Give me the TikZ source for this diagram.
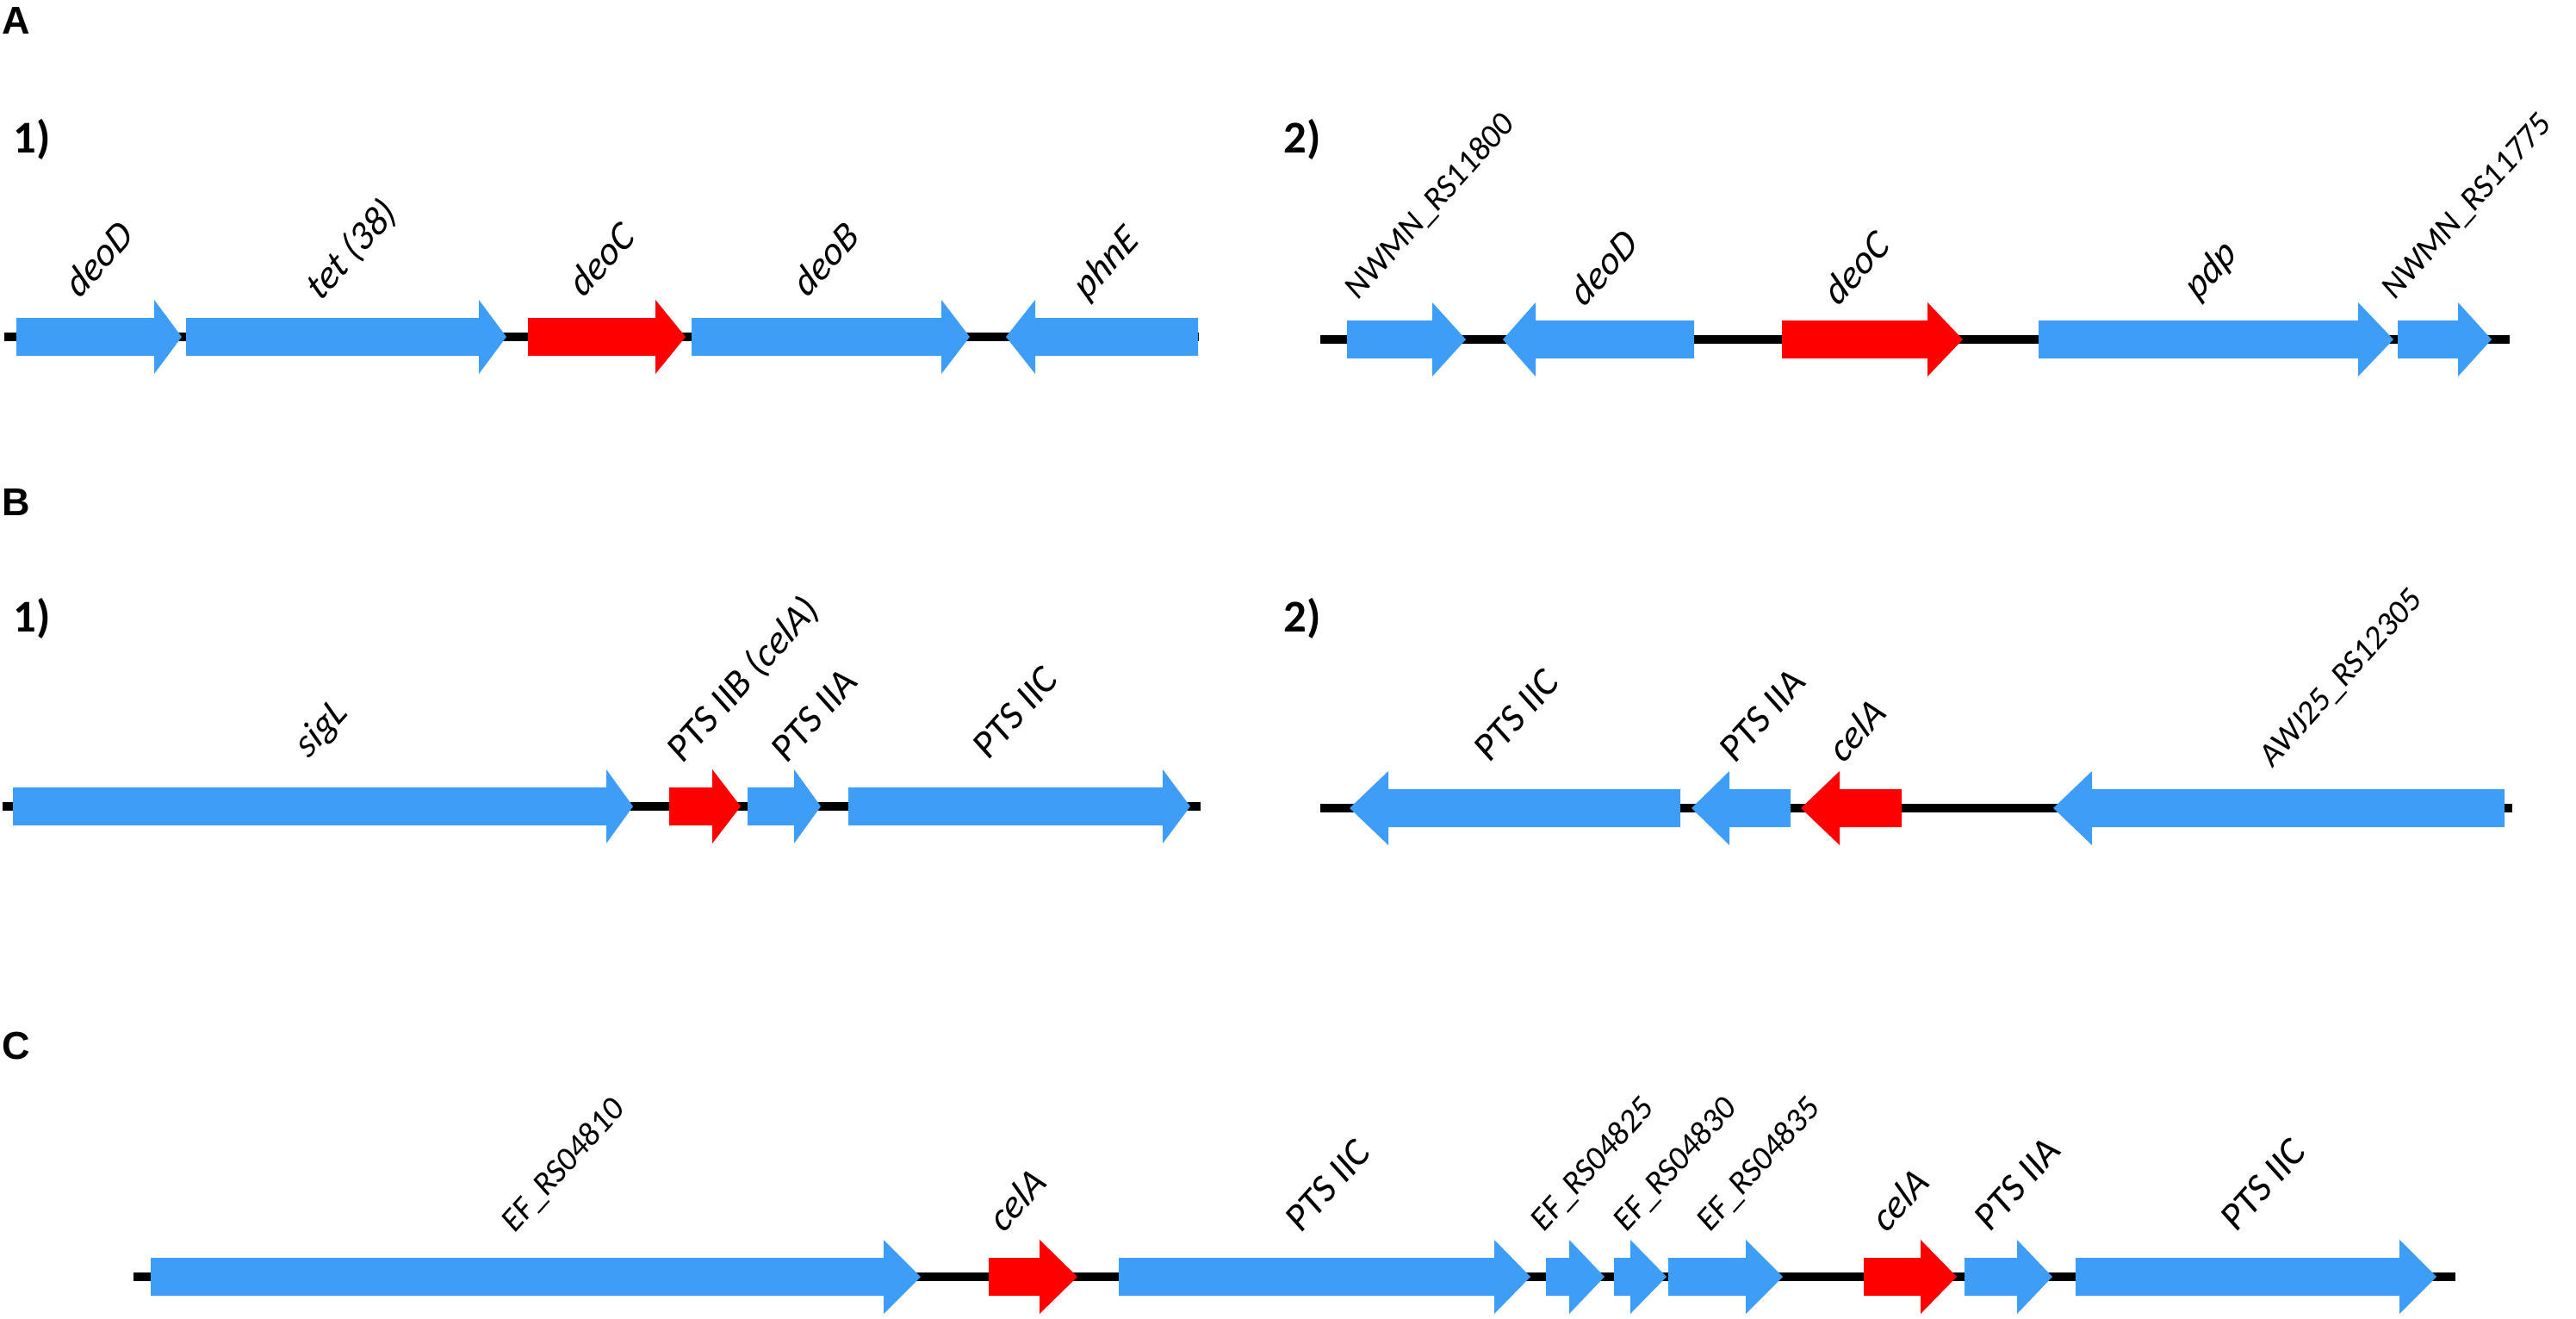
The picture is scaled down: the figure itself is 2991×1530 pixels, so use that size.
\documentclass[tikz,border=0pt]{standalone}
\usepackage{fontspec}
\setmainfont{Carlito}
\newfontfamily\panelfont{Liberation Sans}
\definecolor{geneblue}{RGB}{62,157,246}
\definecolor{genered}{RGB}{255,0,0}
% gene arrow: colour, start, head base, tip, y of the backbone
\newcommand{\genearrow}[5]{%
  \fill[#1] (#2,#5-22) -- (#3,#5-22) -- (#3,#5-43) -- (#4,#5)
    -- (#3,#5+43) -- (#3,#5+22) -- (#2,#5+22) -- cycle;}

\begin{document}
\begin{tikzpicture}[x=0.01cm, y=-0.01cm,
    backbone/.style={line width=3.1pt, black},
    lab/.style={anchor=base west, cm={0.6364,0.7071,-0.6364,0.7071,(0,0)}, inner sep=0pt},
    genelab/.style={lab, font=\fontsize{13.6}{15}\selectfont\itshape},
    ptslab/.style={lab, font=\fontsize{13.6}{15}\selectfont},
    locuslab/.style={lab, font=\fontsize{11.6}{13}\selectfont},
    panel/.style={anchor=base west, inner sep=0pt, font=\panelfont\bfseries\fontsize{12.8}{14}\selectfont},
    subpanel/.style={anchor=base west, inner sep=0pt, font=\bfseries\fontsize{15}{17}\selectfont}]
    \useasboundingbox (0,0) rectangle (2991,1530);

    % Panel A
    \node[panel] (pA) at (2,39) {A};
    \node[subpanel] (pA1) at (15,177) {1)};
    \node[subpanel] (pA2) at (1490,177) {2)};

    % A 1)
    \draw[backbone] (5,391) -- (1392,391);
    \genearrow{geneblue}{19}{179}{211}{391}
    \genearrow{geneblue}{216}{556}{588}{391}
    \genearrow{genered}{613}{761}{796}{391}
    \genearrow{geneblue}{803}{1093}{1126}{391}
    \genearrow{geneblue}{1391}{1202}{1168}{391}
    \node[genelab] (a1deoD) at (92,348) {deoD};
    \node[genelab] (a1tet) at (372,351) {tet (38)};
    \node[genelab] (a1deoC) at (677,347) {deoC};
    \node[genelab] (a1deoB) at (937,347) {deoB};
    \node[genelab] (a1phnE) at (1262,350) {phnE};

    % A 2)
    \draw[backbone] (1533,394) -- (2914,394);
    \genearrow{geneblue}{1564}{1663}{1702}{394}
    \genearrow{geneblue}{1967}{1783}{1745}{394}
    \genearrow{genered}{2069}{2238}{2279}{394}
    \genearrow{geneblue}{2367}{2738}{2779}{394}
    \genearrow{geneblue}{2784}{2854}{2893}{394}
    \node[locuslab] (a2nwmnA) at (1576,350) {NWMN\_RS11800};
    \node[genelab] (a2deoD) at (1839,358) {deoD};
    \node[genelab] (a2deoC) at (2134,357) {deoC};
    \node[genelab] (a2pdp) at (2552,350) {pdp};
    \node[locuslab] (a2nwmnB) at (2780,350) {NWMN\_RS11775};

    % Panel B
    \node[panel] (pB) at (2,598) {B};
    \node[subpanel] (pB1) at (15,733) {1)};
    \node[subpanel] (pB2) at (1490,733) {2)};

    % B 1)
    \draw[backbone] (3,936) -- (1394,936);
    \genearrow{geneblue}{15}{704}{735}{936}
    \genearrow{genered}{777}{827}{860}{936}
    \genearrow{geneblue}{868}{922}{953}{936}
    \genearrow{geneblue}{985}{1350}{1382}{936}
    \node[genelab] (b1sigL) at (358,882) {sigL};
    \node[ptslab] (b1ptsB) at (792,888) {PTS IIB (\textit{celA})};
    \node[ptslab] (b1ptsA) at (913,888) {PTS IIA};
    \node[ptslab] (b1ptsC) at (1147,884) {PTS IIC};

    % B 2)
    \draw[backbone] (1533,938) -- (2917,938);
    \genearrow{geneblue}{1951}{1612}{1567}{938}
    \genearrow{geneblue}{2079}{2008}{1964}{938}
    \genearrow{genered}{2208}{2136}{2091}{938}
    \genearrow{geneblue}{2908}{2429}{2384}{938}
    \node[ptslab] (b2ptsC) at (1729,887) {PTS IIC};
    \node[ptslab] (b2ptsA) at (2014,888) {PTS IIA};
    \node[genelab] (b2celA) at (2140,888) {celA};
    \node[locuslab] (b2awj) at (2638,893) {AWJ25\_RS12305};

    % Panel C
    \node[panel] (pC) at (2,1229) {C};
    \draw[backbone] (155,1482) -- (2851,1482);
    \genearrow{geneblue}{175}{1026}{1069}{1482}
    \genearrow{genered}{1148}{1207}{1251}{1482}
    \genearrow{geneblue}{1299}{1735}{1777}{1482}
    \genearrow{geneblue}{1795}{1822}{1863}{1482}
    \genearrow{geneblue}{1874}{1893}{1935}{1482}
    \genearrow{geneblue}{1937}{2027}{2070}{1482}
    \genearrow{genered}{2164}{2230}{2272}{1482}
    \genearrow{geneblue}{2281}{2342}{2383}{1482}
    \genearrow{geneblue}{2410}{2786}{2829}{1482}
    \node[locuslab] (cef10) at (597,1433) {EF\_RS04810};
    \node[genelab] (ccelA) at (1165,1433) {celA};
    \node[ptslab] (cptsC) at (1510,1433) {PTS IIC};
    \node[locuslab] (cef25) at (1792,1432) {EF\_RS04825};
    \node[locuslab] (cef30) at (1888,1432) {EF\_RS04830};
    \node[locuslab] (cef35) at (1985,1432) {EF\_RS04835};
    \node[genelab] (ccelB) at (2190,1433) {celA};
    \node[ptslab] (cptsA) at (2310,1432) {PTS IIA};
    \node[ptslab] (cptsD) at (2596,1432) {PTS IIC};

\end{tikzpicture}
\end{document}
